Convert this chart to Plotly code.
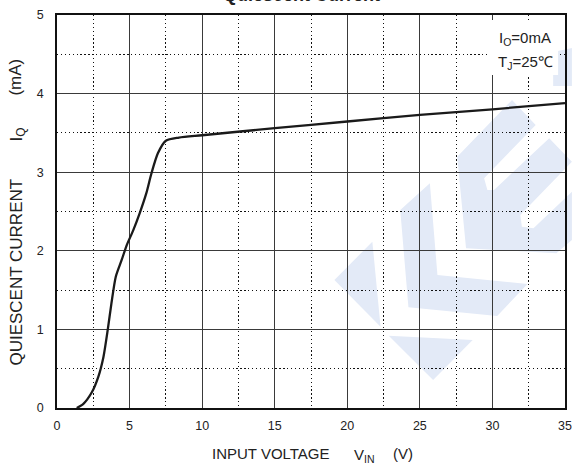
import plotly.graph_objects as go

# ---- data ----
vin = [1.36, 1.8, 2.4, 2.85, 3.2, 3.5, 3.75, 4.05, 4.45, 4.8, 5.25, 5.7, 6.15, 6.5,
       6.95, 7.5, 8.4, 10, 15, 20, 25, 30, 35]
iq = [0.0, 0.05, 0.2, 0.4, 0.65, 1.0, 1.33, 1.67, 1.88, 2.07, 2.26, 2.48, 2.73, 2.98,
      3.24, 3.40, 3.44, 3.47, 3.56, 3.645, 3.73, 3.80, 3.88]
x_ticks = [0, 5, 10, 15, 20, 25, 30, 35]
y_ticks = [0, 1, 2, 3, 4, 5]

W, H = 579, 465
ML, MR, MT, MB = 57, 7, 15, 57
PW = W - ML - MR
PH = H - MT - MB


def px2paper(px, py):
    return (px - ML) / PW, (H - MB - py) / PH


def poly_path(pts):
    s = []
    for i, (px, py) in enumerate(pts):
        x, y = px2paper(px, py)
        s.append(("M" if i == 0 else "L") + f"{x:.4f},{y:.4f}")
    return " ".join(s) + " Z"


# watermark decoration (pixel outlines)
wm_polys = [
    [(338.3, 280), (376.7, 241.7), (385, 326.7)],
    [(393.3, 335.7), (478.3, 340), (438.3, 380)],
    [(405, 210), (435, 183.3), (442.7, 275), (534, 284), (503.3, 316), (413.3, 307.3)],
    [(462.7, 156.7), (518.3, 100), (542.3, 125), (490, 178.3), (493.3, 190), (500, 190),
     (556, 138.3), (579, 161.7), (526.7, 215), (528.3, 226.7), (540, 228.3), (579, 191.7),
     (579, 240), (563.3, 253.3), (471.7, 248.3)],
    [(560, 52), (579, 48), (579, 86), (560, 86)],
]
WM = "#e3eaf7"

FONT = "Liberation Sans, Arial, sans-serif"
TXT = "#222"

fig = go.Figure()
fig.add_trace(go.Scatter(
    x=vin, y=iq, mode="lines",
    line=dict(color="#1a1a1a", width=2.3, shape="spline", smoothing=0.7),
    hoverinfo="skip", showlegend=False,
))

shapes = []
for p in wm_polys:
    shapes.append(dict(type="path", xref="paper", yref="paper", path=poly_path(p),
                       fillcolor=WM, line=dict(width=0), layer="below"))
bx0, by1 = px2paper(494, 20)
bx1, by0 = px2paper(565, 75)
shapes.append(dict(type="rect", xref="paper", yref="paper", x0=bx0, x1=bx1, y0=by0, y1=by1,
                   fillcolor="white", line=dict(width=0), layer="above"))

axis_common = dict(
    showline=True, mirror=True, linecolor="#111", linewidth=1.5,
    showgrid=True, gridcolor="#3a3a3a", gridwidth=1.3,
    ticks="", zeroline=False,
    tickfont=dict(family=FONT, size=12.5, color=TXT),
)


def ann(text, px, py, size, xanchor="center", angle=0):
    x, y = px2paper(px, py)
    return dict(text=text, xref="paper", yref="paper", x=x, y=y,
                xanchor=xanchor, yanchor="middle", textangle=angle,
                showarrow=False, font=dict(family=FONT, size=size, color=TXT))


annotations = [
    ann("<b>Quiescent Current</b>", 305, -5, 18),
    ann("I<sub>O</sub>=0mA", 503, 38, 15, xanchor="left"),
    ann("T<sub>J</sub>=25℃", 502, 62, 15, xanchor="left"),
    # x-axis title pieces
    ann("INPUT VOLTAGE", 274, 453, 15),
    ann("V<sub>IN</sub>", 369, 455, 15),
    ann("(V)", 408, 453, 15),
    # y-axis title pieces
    ann("QUIESCENT CURRENT", 15, 272, 17, angle=-90),
    ann("I<sub>Q</sub>", 17, 135, 17, angle=-90),
    ann("(mA)", 15, 77, 17, angle=-90),
]

fig.update_layout(
    width=W, height=H,
    margin=dict(l=ML, r=MR, t=MT, b=MB, pad=0),
    paper_bgcolor="white", plot_bgcolor="rgba(0,0,0,0)",
    font=dict(family=FONT, color=TXT),
    shapes=shapes,
    xaxis=dict(range=[0, 35], tickvals=x_ticks, ticktext=[str(v) for v in x_ticks],
               ticklabelstandoff=5,
               minor=dict(dtick=2.5, tick0=0, showgrid=True, gridcolor="#111",
                          griddash="1.3px,2.6px", gridwidth=1.3),
               **axis_common),
    yaxis=dict(range=[0, 5], tickvals=y_ticks, ticktext=[str(v) for v in y_ticks],
               ticklabelstandoff=9,
               minor=dict(dtick=0.5, tick0=0, showgrid=True, gridcolor="#111",
                          griddash="1.3px,2.6px", gridwidth=1.3),
               **axis_common),
    annotations=annotations,
)

fig.write_html(
    "out.html",
    config={"displayModeBar": False},
    post_script="document.body.style.margin='0';document.body.style.padding='0';"
                "document.documentElement.style.overflow='hidden';",
)
